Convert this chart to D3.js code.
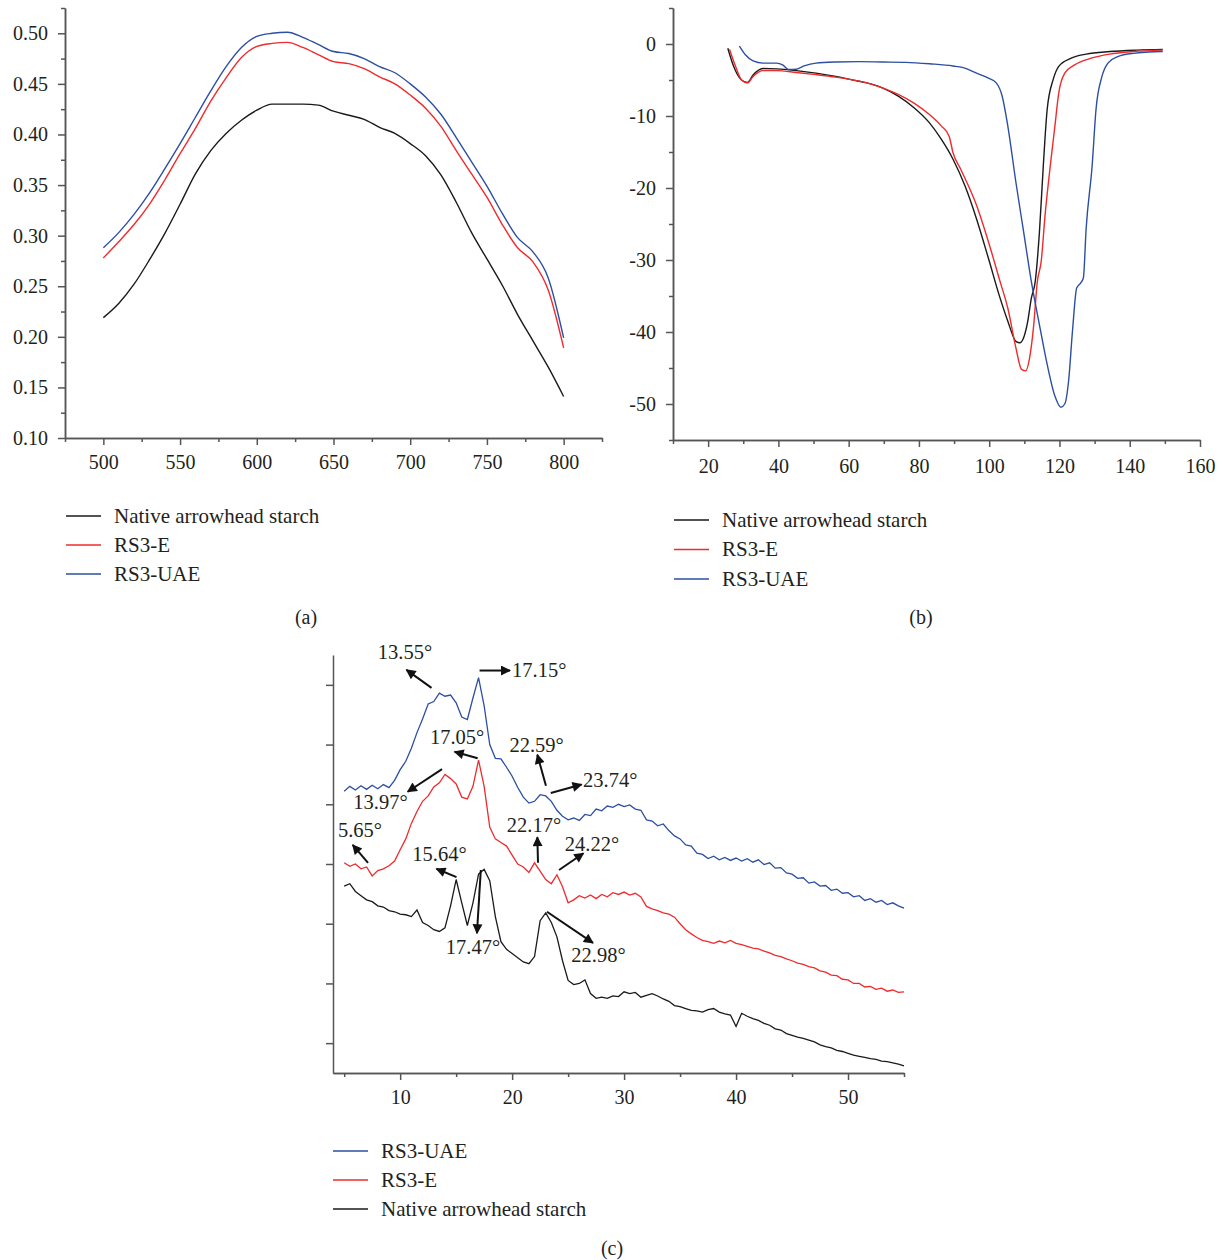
<!DOCTYPE html>
<html><head><meta charset="utf-8">
<script src="https://cdn.jsdelivr.net/npm/d3@7"></script>
<style>
body{margin:0;background:#fff}
svg{display:block;background:#fff}
text{font-family:"Liberation Serif","Times New Roman",serif;fill:#231f20}
</style>
</head><body>
<svg id="chart" width="1223" height="1260"></svg>
<script>
// ---------- Panel (a): UV-vis absorbance ----------
const aWavelength = [500,510,520,530,540,550,560,570,580,590,600,610,620,630,640,650,660,670,680,690,700,710,720,730,740,750,760,770,780,790,800];
const aNative = [0.219,0.233,0.252,0.276,0.302,0.331,0.361,0.384,0.401,0.414,0.424,0.430,0.430,0.430,0.429,0.423,0.419,0.415,0.407,0.401,0.391,0.379,0.360,0.333,0.303,0.277,0.251,0.222,0.196,0.170,0.141];
const aRS3E = [0.278,0.294,0.311,0.331,0.355,0.381,0.406,0.433,0.456,0.476,0.487,0.490,0.491,0.486,0.479,0.472,0.470,0.465,0.457,0.450,0.439,0.426,0.408,0.384,0.361,0.338,0.311,0.288,0.274,0.246,0.189];
const aRS3UAE = [0.288,0.303,0.321,0.342,0.366,0.391,0.417,0.443,0.467,0.486,0.497,0.500,0.501,0.496,0.489,0.482,0.480,0.475,0.467,0.461,0.450,0.437,0.420,0.397,0.373,0.349,0.322,0.298,0.284,0.258,0.199];
const aXTicks = [500,550,600,650,700,750,800];
const aXMinor = [475,525,575,625,675,725,775,825];
const aYTicks = [0.10,0.15,0.20,0.25,0.30,0.35,0.40,0.45,0.50];
const aYMinor = [0.125,0.175,0.225,0.275,0.325,0.375,0.425,0.475,0.525];

// ---------- Panel (b): DSC ----------
const bNativeT = [25.6,27.25,29.5,31.2,32.8,35.6,39.5,45.1,50.7,56.3,60.7,65.2,69.6,74.1,78.6,83.0,86.4,89.7,93.1,96.4,99.8,103.1,105.3,107.6,108.7,109.8,110.9,112.0,113.1,114.3,115.4,116.5,118.2,119.8,123.2,127.6,134.3,142.1,149.4];
const bNativeV = [-0.6,-3.1,-5.0,-5.35,-4.3,-3.4,-3.45,-3.7,-4.05,-4.5,-4.95,-5.4,-6.1,-7.25,-8.85,-10.95,-13.25,-16.0,-19.7,-24.3,-29.8,-35.3,-38.5,-41.3,-41.5,-40.8,-38.7,-35.3,-33.0,-26.1,-16.9,-9.1,-4.95,-3.1,-2.0,-1.4,-1.05,-0.85,-0.75];
const bRS3ET = [26.1,27.8,29.5,31.2,32.8,35.6,39.5,45.1,50.7,56.3,60.7,65.2,69.6,74.1,78.6,83.0,86.4,88.6,89.7,91.9,96.4,99.8,103.1,105.3,107.6,109.2,110.4,111.5,112.6,113.7,114.8,115.9,117.6,118.7,119.8,121.5,124.3,128.8,134.3,141.0,149.4];
const bRS3EV = [-0.75,-3.1,-5.0,-5.4,-4.5,-3.7,-3.7,-3.95,-4.25,-4.6,-4.95,-5.4,-6.1,-7.0,-8.2,-9.8,-11.4,-12.8,-15.1,-17.4,-22.4,-27.5,-33.0,-36.7,-42.2,-45.2,-45.4,-43.6,-39.4,-33.0,-30.2,-23.8,-16.0,-11.4,-6.8,-4.05,-2.9,-2.0,-1.4,-1.05,-0.85];
const bRS3UAET = [28.9,30.6,32.8,35.6,39.5,41.2,42.9,45.1,47.3,50.7,56.3,62.9,69.6,76.3,83.0,89.7,93.1,96.4,99.8,102.0,103.7,105.3,107.6,109.8,112.0,114.3,116.5,118.7,120.4,121.5,122.6,123.7,124.9,126.0,126.8,127.6,129.3,130.4,132.1,133.8,136.6,141.0,149.4];
const bRS3UAEV = [-0.3,-1.5,-2.35,-2.65,-2.65,-2.9,-3.55,-3.5,-3.05,-2.65,-2.5,-2.45,-2.5,-2.55,-2.75,-3.05,-3.35,-4.05,-4.75,-5.4,-7.25,-11.4,-19.2,-26.1,-33.0,-39.0,-44.5,-48.9,-50.45,-50.0,-46.8,-39.9,-33.9,-33.2,-32.5,-25.6,-16.9,-9.1,-4.5,-2.65,-1.75,-1.3,-1.05];
const bXTicks = [20,40,60,80,100,120,140,160];
const bXMinor = [10,30,50,70,90,110,130,150];
const bYTicks = [0,-10,-20,-30,-40,-50];
const bYMinor = [5,-5,-15,-25,-35,-45,-55];

// ---------- Panel (c): XRD ----------
const cAngle = [5,5.5,6,6.5,7,7.5,8,8.5,9,9.5,10,10.5,11,11.5,12,12.5,13,13.5,14,14.5,15,15.5,16,16.5,17,17.5,18,18.5,19,19.5,20,20.5,21,21.5,22,22.5,23,23.5,24,24.5,25,25.5,26,26.5,27,27.5,28,28.5,29,29.5,30,30.5,31,31.5,32,32.5,33,33.5,34,34.5,35,35.5,36,36.5,37,37.5,38,38.5,39,39.5,40,40.5,41,41.5,42,42.5,43,43.5,44,44.5,45,45.5,46,46.5,47,47.5,48,48.5,49,49.5,50,50.5,51,51.5,52,52.5,53,53.5,54,54.5,55];
const cRS3UAE = [4.72,4.80,4.74,4.81,4.75,4.82,4.76,4.83,4.78,4.90,5.08,5.22,5.44,5.70,5.93,6.18,6.22,6.36,6.31,6.33,6.20,5.96,5.92,6.28,6.62,6.15,5.50,5.27,5.26,5.12,4.97,4.78,4.62,4.52,4.55,4.66,4.64,4.55,4.40,4.30,4.24,4.27,4.23,4.33,4.31,4.42,4.39,4.47,4.45,4.50,4.46,4.49,4.42,4.40,4.24,4.22,4.14,4.17,4.06,3.97,3.92,3.82,3.80,3.68,3.66,3.59,3.63,3.57,3.61,3.56,3.60,3.55,3.59,3.53,3.57,3.49,3.52,3.43,3.44,3.35,3.33,3.26,3.27,3.18,3.20,3.13,3.14,3.06,3.08,3.01,3.02,2.95,2.97,2.89,2.92,2.86,2.89,2.82,2.85,2.80,2.76];
const cRS3E = [3.52,3.46,3.50,3.42,3.45,3.30,3.39,3.42,3.47,3.55,3.74,3.92,4.18,4.38,4.55,4.64,4.79,4.86,5.00,4.93,4.84,4.62,4.59,4.80,5.24,4.80,4.12,3.92,3.86,3.80,3.65,3.50,3.45,3.36,3.52,3.38,3.24,3.17,3.32,3.12,2.85,2.90,2.97,2.93,2.98,2.92,2.99,2.95,3.02,2.99,3.03,2.98,3.01,2.95,2.79,2.75,2.72,2.68,2.66,2.61,2.50,2.40,2.33,2.27,2.22,2.20,2.17,2.21,2.18,2.22,2.17,2.15,2.12,2.09,2.08,2.04,2.01,1.97,1.95,1.91,1.88,1.84,1.82,1.78,1.76,1.71,1.69,1.64,1.63,1.57,1.56,1.50,1.50,1.44,1.45,1.40,1.42,1.37,1.39,1.35,1.36];
const cNative = [3.13,3.17,3.04,2.97,2.90,2.87,2.80,2.78,2.72,2.70,2.66,2.65,2.62,2.73,2.52,2.47,2.40,2.37,2.43,2.80,3.24,2.85,2.47,2.85,3.33,3.41,3.22,2.62,2.20,2.07,2.00,1.93,1.86,1.83,1.95,2.55,2.68,2.52,2.28,1.88,1.55,1.48,1.50,1.56,1.33,1.25,1.27,1.25,1.29,1.28,1.36,1.33,1.35,1.27,1.30,1.33,1.29,1.24,1.20,1.13,1.11,1.08,1.05,1.04,1.02,1.06,1.08,1.02,0.99,0.97,0.78,1.00,0.95,0.91,0.88,0.83,0.80,0.74,0.72,0.66,0.63,0.60,0.58,0.55,0.52,0.47,0.44,0.42,0.38,0.36,0.33,0.30,0.28,0.26,0.24,0.23,0.20,0.19,0.17,0.15,0.12];
const cXTicks = [10,20,30,40,50];
const cXMinor = [5,15,25,35,45,55];
const cYTicks = [0.5,1.5,2.5,3.5,4.5,5.5,6.5];
// annotations: label, arrow tail [2θ, I], arrow head [2θ, I], text [2θ, I], anchor
const cLabels = ["13.55°","17.15°","17.05°","22.59°","23.74°","13.97°","5.65°","22.17°","24.22°","15.64°","17.47°","22.98°"];
const cArrowFrom = [[12.80,6.45],[17.09,6.74],[16.92,5.27],[23.02,4.81],[23.45,4.69],[13.74,5.09],[7.13,3.52],[22.31,3.52],[24.19,3.40],[15.03,3.28],[17.20,3.40],[23.11,2.70]];
const cArrowTo = [[10.56,6.75],[19.81,6.74],[14.86,5.38],[22.25,5.33],[26.20,4.83],[10.67,4.71],[5.76,3.82],[22.25,3.95],[26.37,3.68],[13.24,3.42],[16.86,2.34],[27.22,2.18]];
const cTextPos = [[10.43,7.05],[19.99,6.75],[15.08,5.63],[22.18,5.49],[26.33,4.91],[8.24,4.54],[6.41,4.07],[21.95,4.15],[24.70,3.84],[13.51,3.67],[16.50,2.11],[27.71,1.98]];
const cAnchor = ["middle","start","middle","middle","start","middle","middle","middle","start","middle","middle","middle"];

const seriesNames = ["Native arrowhead starch","RS3-E","RS3-UAE"];
const colors = {"Native arrowhead starch":"#1a1a1a","RS3-E":"#ef2b2d","RS3-UAE":"#2c4fa3"};

const svg = d3.select("#chart");
const AX = "#555555";

function styleAxis(g){
  g.select(".domain").attr("stroke",AX).attr("stroke-width",1.5);
  g.selectAll(".tick line").attr("stroke",AX).attr("stroke-width",1.5);
  g.selectAll(".tick text").attr("font-size",20).attr("fill","#231f20")
    .attr("font-family","'Liberation Serif','Times New Roman',serif");
}

function axes(x, y, o){
  const xMinorG = svg.append("g").attr("transform",`translate(0,${y.range()[0]})`)
    .call(d3.axisBottom(x).tickValues(o.xMinor).tickSize(4).tickSizeOuter(0).tickFormat(""));
  styleAxis(xMinorG);
  const xg = svg.append("g").attr("transform",`translate(0,${y.range()[0]})`)
    .call(d3.axisBottom(x).tickValues(o.xTicks).tickSize(7).tickSizeOuter(0).tickPadding(o.xPad).tickFormat(d=>String(d)));
  styleAxis(xg);
  if (o.yMinor){
    const ym = svg.append("g").attr("transform",`translate(${x.range()[0]},0)`)
      .call(d3.axisLeft(y).tickValues(o.yMinor).tickSize(4).tickSizeOuter(0).tickFormat(""));
    styleAxis(ym);
  }
  const yg = svg.append("g").attr("transform",`translate(${x.range()[0]},0)`)
    .call(d3.axisLeft(y).tickValues(o.yTicks).tickSize(7).tickSizeOuter(0).tickPadding(10).tickFormat(o.yFmt));
  styleAxis(yg);
}

function legend(x0, y0, names, gap){
  names.forEach((n,i)=>{
    const yy = y0 + i*gap;
    svg.append("line").attr("x1",x0).attr("x2",x0+35).attr("y1",yy).attr("y2",yy)
      .attr("stroke",colors[n]).attr("stroke-width",1.4);
    svg.append("text").attr("x",x0+48).attr("y",yy).attr("dy","0.33em")
      .attr("font-size",21).text(n);
  });
}

function caption(x, y, t){
  svg.append("text").attr("x",x).attr("y",y).attr("dy","0.33em").attr("text-anchor","middle")
    .attr("font-size",20).text(t);
}

// ---------- draw (a) ----------
{
  const x = d3.scaleLinear().domain([475,825]).range([65,602]);
  const y = d3.scaleLinear().domain([0.10,0.525]).range([438,8]);
  const line = d3.line().x(d=>x(d[0])).y(d=>y(d[1])).curve(d3.curveMonotoneX);
  const sets = [[aNative,"Native arrowhead starch"],[aRS3E,"RS3-E"],[aRS3UAE,"RS3-UAE"]];
  sets.forEach(([vals,n])=>{
    svg.append("path").datum(aWavelength.map((w,i)=>[w,vals[i]]))
      .attr("d",line).attr("fill","none").attr("stroke",colors[n]).attr("stroke-width",1.4);
  });
  axes(x,y,{xTicks:aXTicks,xMinor:aXMinor,yTicks:aYTicks,yMinor:aYMinor,xPad:10,yFmt:d3.format(".2f")});
  legend(66,516,seriesNames,29);
  caption(306,617,"(a)");
}

// ---------- draw (b) ----------
{
  const x = d3.scaleLinear().domain([10,160]).range([673,1200]);
  const y = d3.scaleLinear().domain([-55,5]).range([440,8]);
  const line = d3.line().x(d=>x(d[0])).y(d=>y(d[1])).curve(d3.curveMonotoneX);
  const sets = [[bNativeT,bNativeV,"Native arrowhead starch"],[bRS3ET,bRS3EV,"RS3-E"],[bRS3UAET,bRS3UAEV,"RS3-UAE"]];
  sets.forEach(([ts,vs,n])=>{
    svg.append("path").datum(ts.map((t,i)=>[t,vs[i]]))
      .attr("d",line).attr("fill","none").attr("stroke",colors[n]).attr("stroke-width",1.4);
  });
  axes(x,y,{xTicks:bXTicks,xMinor:bXMinor,yTicks:bYTicks,yMinor:bYMinor,xPad:12,yFmt:d=>String(d)});
  legend(674,520,seriesNames,29.5);
  caption(921,617,"(b)");
}

// ---------- draw (c) ----------
{
  const x = d3.scaleLinear().domain([4,55]).range([333,904]);
  const y = d3.scaleLinear().domain([0,7]).range([1073,655]);
  const line = d3.line().x(d=>x(d[0])).y(d=>y(d[1]));
  const sets = [[cNative,"Native arrowhead starch"],[cRS3E,"RS3-E"],[cRS3UAE,"RS3-UAE"]];
  sets.forEach(([vals,n])=>{
    svg.append("path").datum(cAngle.map((a,i)=>[a,vals[i]]))
      .attr("d",line).attr("fill","none").attr("stroke",colors[n]).attr("stroke-width",1.3);
  });
  axes(x,y,{xTicks:cXTicks,xMinor:cXMinor,yTicks:cYTicks,yMinor:null,xPad:10,yFmt:()=>""});

  svg.append("defs").append("marker").attr("id","arr").attr("viewBox","0 0 10 10")
    .attr("refX",9).attr("refY",5).attr("markerWidth",12).attr("markerHeight",10)
    .attr("markerUnits","userSpaceOnUse").attr("orient","auto")
    .append("path").attr("d","M0,0 L10,5 L0,10 Z").attr("fill","#111");
  cLabels.forEach((lab,i)=>{
    const f = cArrowFrom[i], t = cArrowTo[i], p = cTextPos[i];
    svg.append("line").attr("x1",x(f[0])).attr("y1",y(f[1])).attr("x2",x(t[0])).attr("y2",y(t[1]))
      .attr("stroke","#111").attr("stroke-width",2).attr("marker-end","url(#arr)");
    svg.append("text").attr("x",x(p[0])).attr("y",y(p[1])).attr("dy","0.35em")
      .attr("text-anchor",cAnchor[i]).attr("font-size",20.5).text(lab);
  });
  legend(333,1151,["RS3-UAE","RS3-E","Native arrowhead starch"],29);
  caption(612,1248,"(c)");
}
</script>
</body></html>
